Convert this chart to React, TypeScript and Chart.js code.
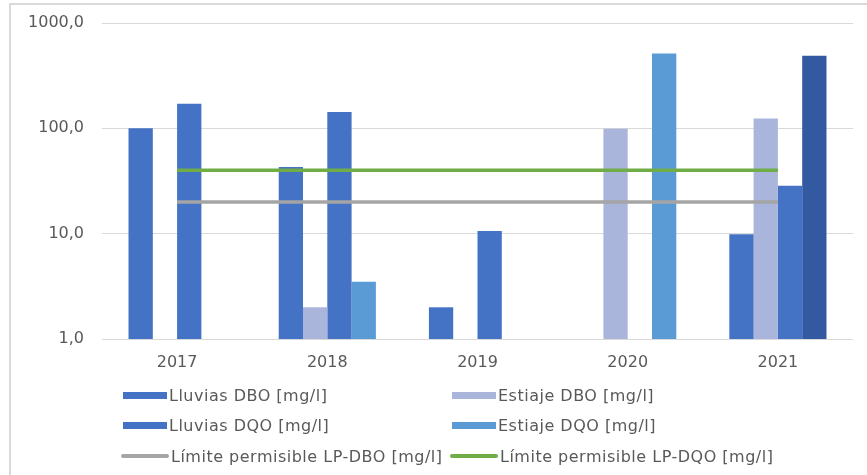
import React, { useEffect, useRef } from 'react';
import { Chart, registerables } from 'chart.js';

Chart.register(...registerables);

const years = ['2017', '2018', '2019', '2020', '2021'];
const lluviasDBO: (number | null)[] = [100, 43, 2.0, null, 9.9];
const estiajeDBO: (number | null)[] = [null, 2.0, null, 99, 124];
const lluviasDQO: (number | null)[] = [171, 143, 10.6, null, 28.5];
const estiajeDQO: (number | null)[] = [null, 3.5, null, 512, 490];
const limiteDBO = [20, 20, 20, 20, 20];
const limiteDQO = [40, 40, 40, 40, 40];
const yTicks = [1, 10, 100, 1000];

const seriesNames = [
  'Lluvias DBO [mg/l]',
  'Estiaje DBO [mg/l]',
  'Lluvias DQO [mg/l]',
  'Estiaje DQO [mg/l]',
  'Límite permisible LP-DBO [mg/l]',
  'Límite permisible LP-DQO [mg/l]',
];

const C_LLUVIAS = '#4472C4';
const C_EST_DBO = '#A9B5DB';
const C_EST_DQO = '#5B9BD5';
const C_EST_DQO_2021 = '#335AA0';
const C_GRAY = '#A5A5A5';
const C_GREEN = '#70AD47';
const TEXT = '#595959';
const FONT = "'DejaVu Sans', 'Noto Sans', sans-serif";

const legendItems = [
  { name: seriesNames[0], color: C_LLUVIAS, kind: 'bar', col: 0, row: 0 },
  { name: seriesNames[1], color: C_EST_DBO, kind: 'bar', col: 1, row: 0 },
  { name: seriesNames[2], color: C_LLUVIAS, kind: 'bar', col: 0, row: 1 },
  { name: seriesNames[3], color: C_EST_DQO, kind: 'bar', col: 1, row: 1 },
  { name: seriesNames[4], color: C_GRAY, kind: 'line', col: 0, row: 2 },
  { name: seriesNames[5], color: C_GREEN, kind: 'line', col: 1, row: 2 },
];

export default function App() {
  const ref = useRef<HTMLCanvasElement | null>(null);

  useEffect(() => {
    if (!ref.current) return;
    const chart = new Chart(ref.current, {
      type: 'bar',
      data: {
        labels: years,
        datasets: [
          { type: 'bar', label: seriesNames[0], data: lluviasDBO, backgroundColor: C_LLUVIAS, order: 2 },
          { type: 'bar', label: seriesNames[1], data: estiajeDBO, backgroundColor: C_EST_DBO, order: 2 },
          { type: 'bar', label: seriesNames[2], data: lluviasDQO, backgroundColor: C_LLUVIAS, order: 2 },
          {
            type: 'bar',
            label: seriesNames[3],
            data: estiajeDQO,
            backgroundColor: [C_EST_DQO, C_EST_DQO, C_EST_DQO, C_EST_DQO, C_EST_DQO_2021],
            order: 2,
          },
          {
            type: 'line',
            label: seriesNames[4],
            data: limiteDBO,
            borderColor: C_GRAY,
            borderWidth: 3.5,
            pointRadius: 0,
            fill: false,
            order: 0,
          },
          {
            type: 'line',
            label: seriesNames[5],
            data: limiteDQO,
            borderColor: C_GREEN,
            borderWidth: 3.5,
            pointRadius: 0,
            fill: false,
            order: 0,
          },
        ] as any,
      },
      options: {
        animation: false,
        responsive: false,
        maintainAspectRatio: false,
        datasets: {
          bar: { barPercentage: 1, categoryPercentage: 0.647 },
        } as any,
        layout: { padding: { left: 10, top: 23, right: 14, bottom: 96 } },
        plugins: {
          legend: { display: false },
          tooltip: { enabled: false },
        },
        scales: {
          x: {
            grid: { display: false },
            border: { display: false },
            ticks: { color: TEXT, font: { family: FONT, size: 16 }, padding: 6 },
            afterFit: (s: any) => {
              s.height = 40;
            },
          },
          y: {
            type: 'logarithmic',
            min: 1,
            max: 1000,
            grid: { color: '#D9D9D9', lineWidth: 1, drawTicks: false },
            border: { display: false },
            ticks: {
              color: TEXT,
              font: { family: FONT, size: 16 },
              padding: 18,
              callback: (v: any) => Number(v).toFixed(1).replace('.', ','),
            },
            afterBuildTicks: (s: any) => {
              s.ticks = yTicks.map((v) => ({ value: v }));
            },
            afterFit: (s: any) => {
              s.width = 92;
              s.paddingTop = 0;
              s.paddingBottom = 0;
            },
          },
        },
      } as any,
    });
    return () => chart.destroy();
  }, []);

  return (
    <div
      style={{
        position: 'fixed',
        left: 0,
        top: 0,
        width: 867,
        height: 475,
        background: '#fff',
        overflow: 'hidden',
        fontFamily: FONT,
      }}
    >
      <div
        style={{
          position: 'absolute',
          left: 9,
          top: 3,
          width: 880,
          height: 490,
          border: '2px solid #D9D9D9',
          boxSizing: 'border-box',
        }}
      />
      <canvas ref={ref} width={867} height={475} style={{ position: 'absolute', left: 0, top: 0 }} />
      {legendItems.map((it, i) => {
        const x = it.col === 0 ? 121 : 450;
        const y = [395, 425, 456][it.row];
        return (
          <div
            key={i}
            style={{
              position: 'absolute',
              left: x,
              top: y - 12,
              height: 24,
              display: 'flex',
              alignItems: 'center',
              whiteSpace: 'nowrap',
              color: TEXT,
              fontSize: 16,
              letterSpacing: '0.5px',
            }}
          >
            {it.kind === 'bar' ? (
              <span style={{ display: 'inline-block', width: 44, height: 7, background: it.color, marginLeft: 2 }} />
            ) : (
              <span
                style={{ display: 'inline-block', width: 48, height: 4, borderRadius: 2, background: it.color }}
              />
            )}
            <span style={{ marginLeft: 2 }}>{it.name}</span>
          </div>
        );
      })}
    </div>
  );
}
